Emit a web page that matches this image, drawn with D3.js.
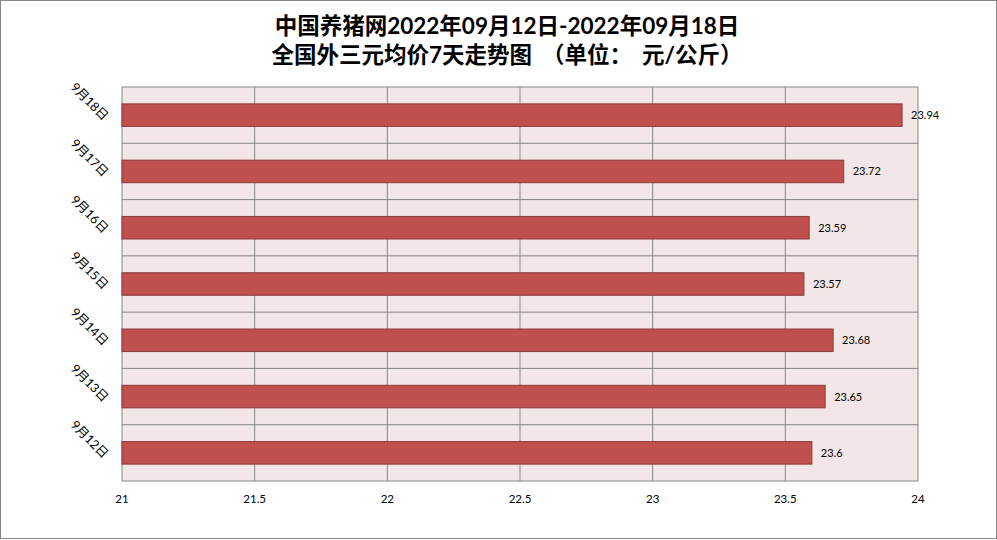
<!DOCTYPE html>
<html>
<head>
<meta charset="utf-8">
<script src="https://cdn.jsdelivr.net/npm/d3@7"></script>
<style>
  body { margin: 0; background: #fff; }
  svg { display: block; font-family: Lato, "Noto Sans CJK SC", sans-serif; }
</style>
</head>
<body>
<svg width="997" height="540"></svg>
<script>
// data
var dates = ["9月12日", "9月13日", "9月14日", "9月15日", "9月16日", "9月17日", "9月18日"];
var prices = [23.6, 23.65, 23.68, 23.57, 23.59, 23.72, 23.94];
var xTicks = [21, 21.5, 22, 22.5, 23, 23.5, 24];
var titleLines = ["中国养猪网2022年09月12日-2022年09月18日", "全国外三元均价7天走势图（单位：元/公斤）"];

var svg = d3.select("svg"),
    width = 997,
    height = 540,
    margin = {top: 87, right: 79, bottom: 59, left: 122};

var rows = dates.map(function(d, i) { return {date: d, value: prices[i]}; });

// outer frame
svg.append("rect")
    .attr("x", 0.5).attr("y", 0.5)
    .attr("width", width - 1).attr("height", height - 2)
    .attr("fill", "#fff")
    .attr("stroke", "#868686");

var x = d3.scaleLinear()
    .domain([21, 24])
    .range([margin.left, width - margin.right]);

// top of the chart is the last date
var y = d3.scaleBand()
    .domain(dates.slice().reverse())
    .range([margin.top, height - margin.bottom])
    .paddingInner(0.6)
    .paddingOuter(0.3);

var yGrid = d3.scaleLinear()
    .domain([0, dates.length])
    .range([margin.top, height - margin.bottom]);

var g = svg.append("g");

g.append("rect")
    .attr("x", x(21)).attr("y", margin.top)
    .attr("width", x(24) - x(21))
    .attr("height", height - margin.bottom - margin.top)
    .attr("fill", "#F2E6E6");

// vertical grid
g.selectAll(".vgrid")
    .data(xTicks)
    .join("line")
    .attr("x1", d => x(d)).attr("x2", d => x(d))
    .attr("y1", margin.top).attr("y2", height - margin.bottom)
    .attr("stroke", "#868686");

// horizontal grid at category boundaries
g.selectAll(".hgrid")
    .data(d3.range(dates.length + 1))
    .join("line")
    .attr("x1", x(21)).attr("x2", x(24))
    .attr("y1", d => yGrid(d)).attr("y2", d => yGrid(d))
    .attr("stroke", "#868686");

g.selectAll(".bar")
    .data(rows)
    .join("rect")
    .attr("x", x(21))
    .attr("y", d => y(d.date))
    .attr("width", d => x(d.value) - x(21))
    .attr("height", y.bandwidth())
    .attr("fill", "#C0504D")
    .attr("stroke", "#8C3A38")
    .attr("stroke-width", 1);

g.selectAll(".val")
    .data(rows)
    .join("text")
    .attr("x", d => x(d.value) + 9)
    .attr("y", d => y(d.date) + y.bandwidth() / 2 + 4)
    .attr("font-size", 11)
    .attr("fill", "#000")
    .text(d => d.value);

// x tick labels
g.selectAll(".xt")
    .data(xTicks)
    .join("text")
    .attr("x", d => x(d))
    .attr("y", height - margin.bottom + 22)
    .attr("text-anchor", "middle")
    .attr("font-size", 11.5)
    .text(d => d);

// rotated date labels
g.selectAll(".yt")
    .data(dates)
    .join("text")
    .attr("transform", d => "translate(" + (margin.left - 19) + "," + (y(d) + y.bandwidth() / 2 + 6) + ") rotate(45)")
    .attr("text-anchor", "end")
    .attr("font-size", 12.5)
    .text(d => d);

// title; opening bracket gets room before it, colon room after it
var title = svg.selectAll(".title")
    .data(titleLines)
    .join("text")
    .attr("x", 507)
    .attr("y", (d, i) => 34 + i * 29)
    .attr("text-anchor", "middle")
    .attr("font-size", 22.5)
    .attr("font-weight", "bold");

title.selectAll("tspan")
    .data(d => {
        var parts = d.split(/([\uff08\uff1a])/).filter(s => s.length);
        return parts.map((s, i) => ({s: s, pad: (s === "（" ? 10 : 0) + (i > 0 && parts[i - 1] === "：" ? 10 : 0)}));
    })
    .join("tspan")
    .attr("dx", p => p.pad || null)
    .text(p => p.s);
</script>
</body>
</html>
